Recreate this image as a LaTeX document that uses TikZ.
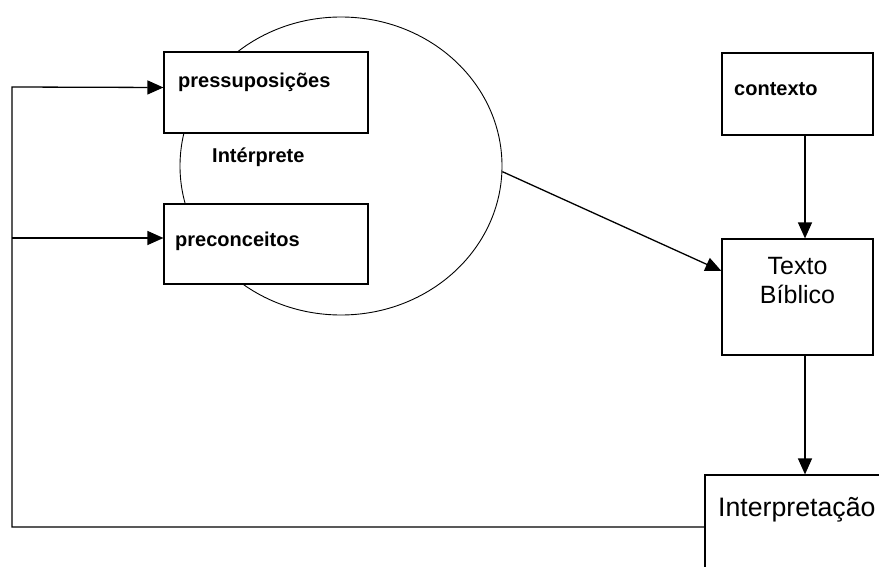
\documentclass[tikz,border=0pt]{standalone}
\usepackage{fontspec}
\setmainfont{Liberation Sans}
\usetikzlibrary{shapes.geometric, arrows.meta, positioning, calc}

\begin{document}
\begin{tikzpicture}[x=1pt, y=-1pt,
      box/.style={draw, line width=1.2pt, fill=white, inner sep=0pt, minimum width=204pt},
      rbox/.style={draw, line width=1.2pt, fill=white, inner sep=0pt, minimum width=151pt},
      small/.style={anchor=base west, inner sep=0pt, font=\bfseries\fontsize{20}{24}\selectfont},
      big/.style={inner sep=0pt, align=center, font=\fontsize{25}{29}\selectfont},
      arrow/.style={-{Triangle[length=16pt, width=14pt]}, line width=1.3pt}
    ]
    \useasboundingbox (0,0) rectangle (879,567);
    \clip (0,0) rectangle (879,567);
    \node[draw, ellipse, line width=0.9pt, minimum width=322pt, minimum height=298pt] (interp) at (341,166) {};
    \node[box, minimum height=81pt] (pres) at (266,92.5) {};
    \node[box, minimum height=80pt] (prec) at (266,244) {};
    \node[rbox, minimum height=82pt] (ctx) at (797.5,94) {};
    \node[rbox, minimum height=116pt] (texto) at (797.5,297) {};
    \node[draw, line width=1.2pt, fill=white, minimum width=200pt, minimum height=104pt] (interpr) at (805,527) {};

    \node[small] (tPres) at (178,88) {pressuposições};
    \node[small] (tPrec) at (175,247) {preconceitos};
    \node[small] (tInterp) at (212,163) {Intérprete};
    \node[small] (tCtx) at (734,96) {contexto};
    \node[big, anchor=north] (tTexto) at (797.5,257) {Texto\\Bíblico};
    \node[big, anchor=base west, font=\fontsize{26.7}{30}\selectfont] (tInterpr) at (718,516) {Interpretação};

    \coordinate (loopTop) at (12,87);
    \coordinate (loopMid) at (12,238);

    \draw[arrow] (interp.-2) -- ([yshift=26pt]texto.west);
    \draw[arrow] ([xshift=7.5pt]ctx.south) -- ([xshift=7.5pt]texto.north);
    \draw[arrow] ([xshift=7.5pt]texto.south) -- (interpr.north);
    \draw[arrow] (interpr.west) -| (loopTop) -- ([yshift=5pt]pres.west);
    \draw[arrow] (loopMid) -- ([yshift=6pt]prec.west);
  \end{tikzpicture}
\end{document}
